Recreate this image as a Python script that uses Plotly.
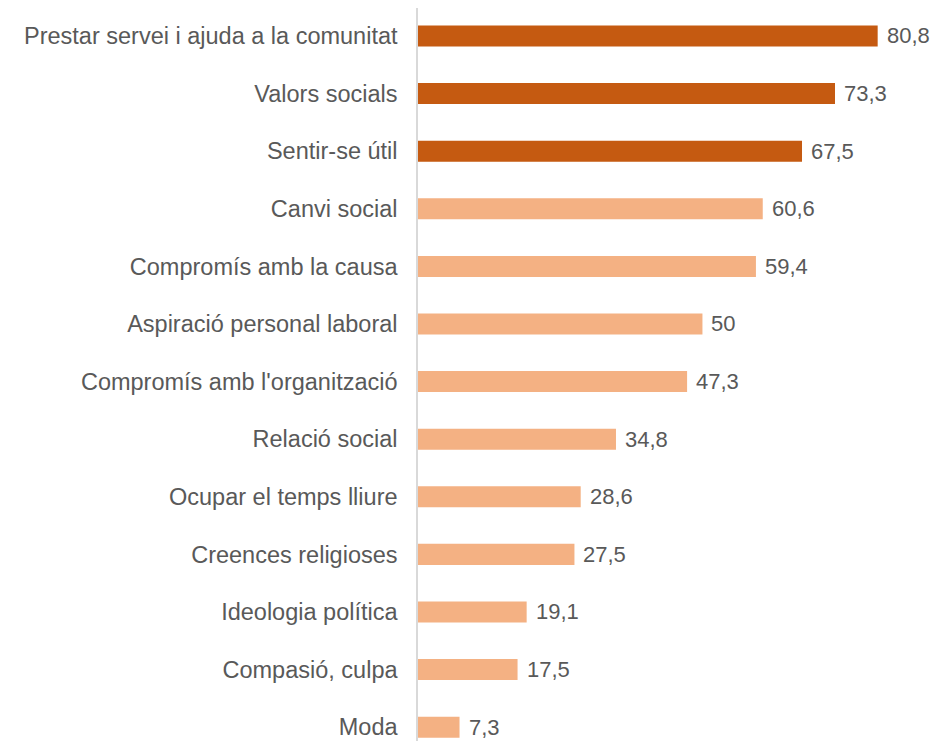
import plotly.graph_objects as go

categories = [
    "Prestar servei i ajuda a la comunitat",
    "Valors socials",
    "Sentir-se útil",
    "Canvi social",
    "Compromís amb la causa",
    "Aspiració personal laboral",
    "Compromís amb l'organització",
    "Relació social",
    "Ocupar el temps lliure",
    "Creences religioses",
    "Ideologia política",
    "Compasió, culpa",
    "Moda",
]
values = [80.8, 73.3, 67.5, 60.6, 59.4, 50, 47.3, 34.8, 28.6, 27.5, 19.1, 17.5, 7.3]
highlight_count = 3

DARK = "#C55A11"
LIGHT = "#F4B183"
TEXT = "#595959"
FONT = "Liberation Sans, Arial, sans-serif"
colors = [DARK if i < highlight_count else LIGHT for i in range(len(values))]
labels = [f"{v:g}".replace(".", ",") for v in values]

fig = go.Figure(
    go.Bar(
        x=values,
        y=categories,
        orientation="h",
        marker=dict(color=colors, line=dict(width=0)),
        width=0.365,
        hoverinfo="skip",
    )
)

for c, v, t in zip(categories, values, labels):
    fig.add_annotation(
        x=v, y=c, text=t, showarrow=False, xanchor="left", xshift=7,
        font=dict(family=FONT, size=22, color=TEXT),
    )

fig.update_layout(
    width=924,
    height=733,
    margin=dict(l=410, r=0, t=0, b=0, autoexpand=False),
    paper_bgcolor="white",
    plot_bgcolor="white",
    showlegend=False,
    font=dict(family=FONT, size=23.5, color=TEXT),
    xaxis=dict(range=[0, 90.35], visible=False, showgrid=False, zeroline=False),
    yaxis=dict(
        categoryorder="array",
        categoryarray=categories,
        range=[12.240, -0.486],
        automargin=False,
        showline=True,
        linecolor="#D9D9D9",
        linewidth=1.5,
        showgrid=False,
        zeroline=False,
        ticks="",
        ticklabelstandoff=14,
        tickfont=dict(family=FONT, size=23.5, color=TEXT),
    ),
)

fig.write_html("out.html")
